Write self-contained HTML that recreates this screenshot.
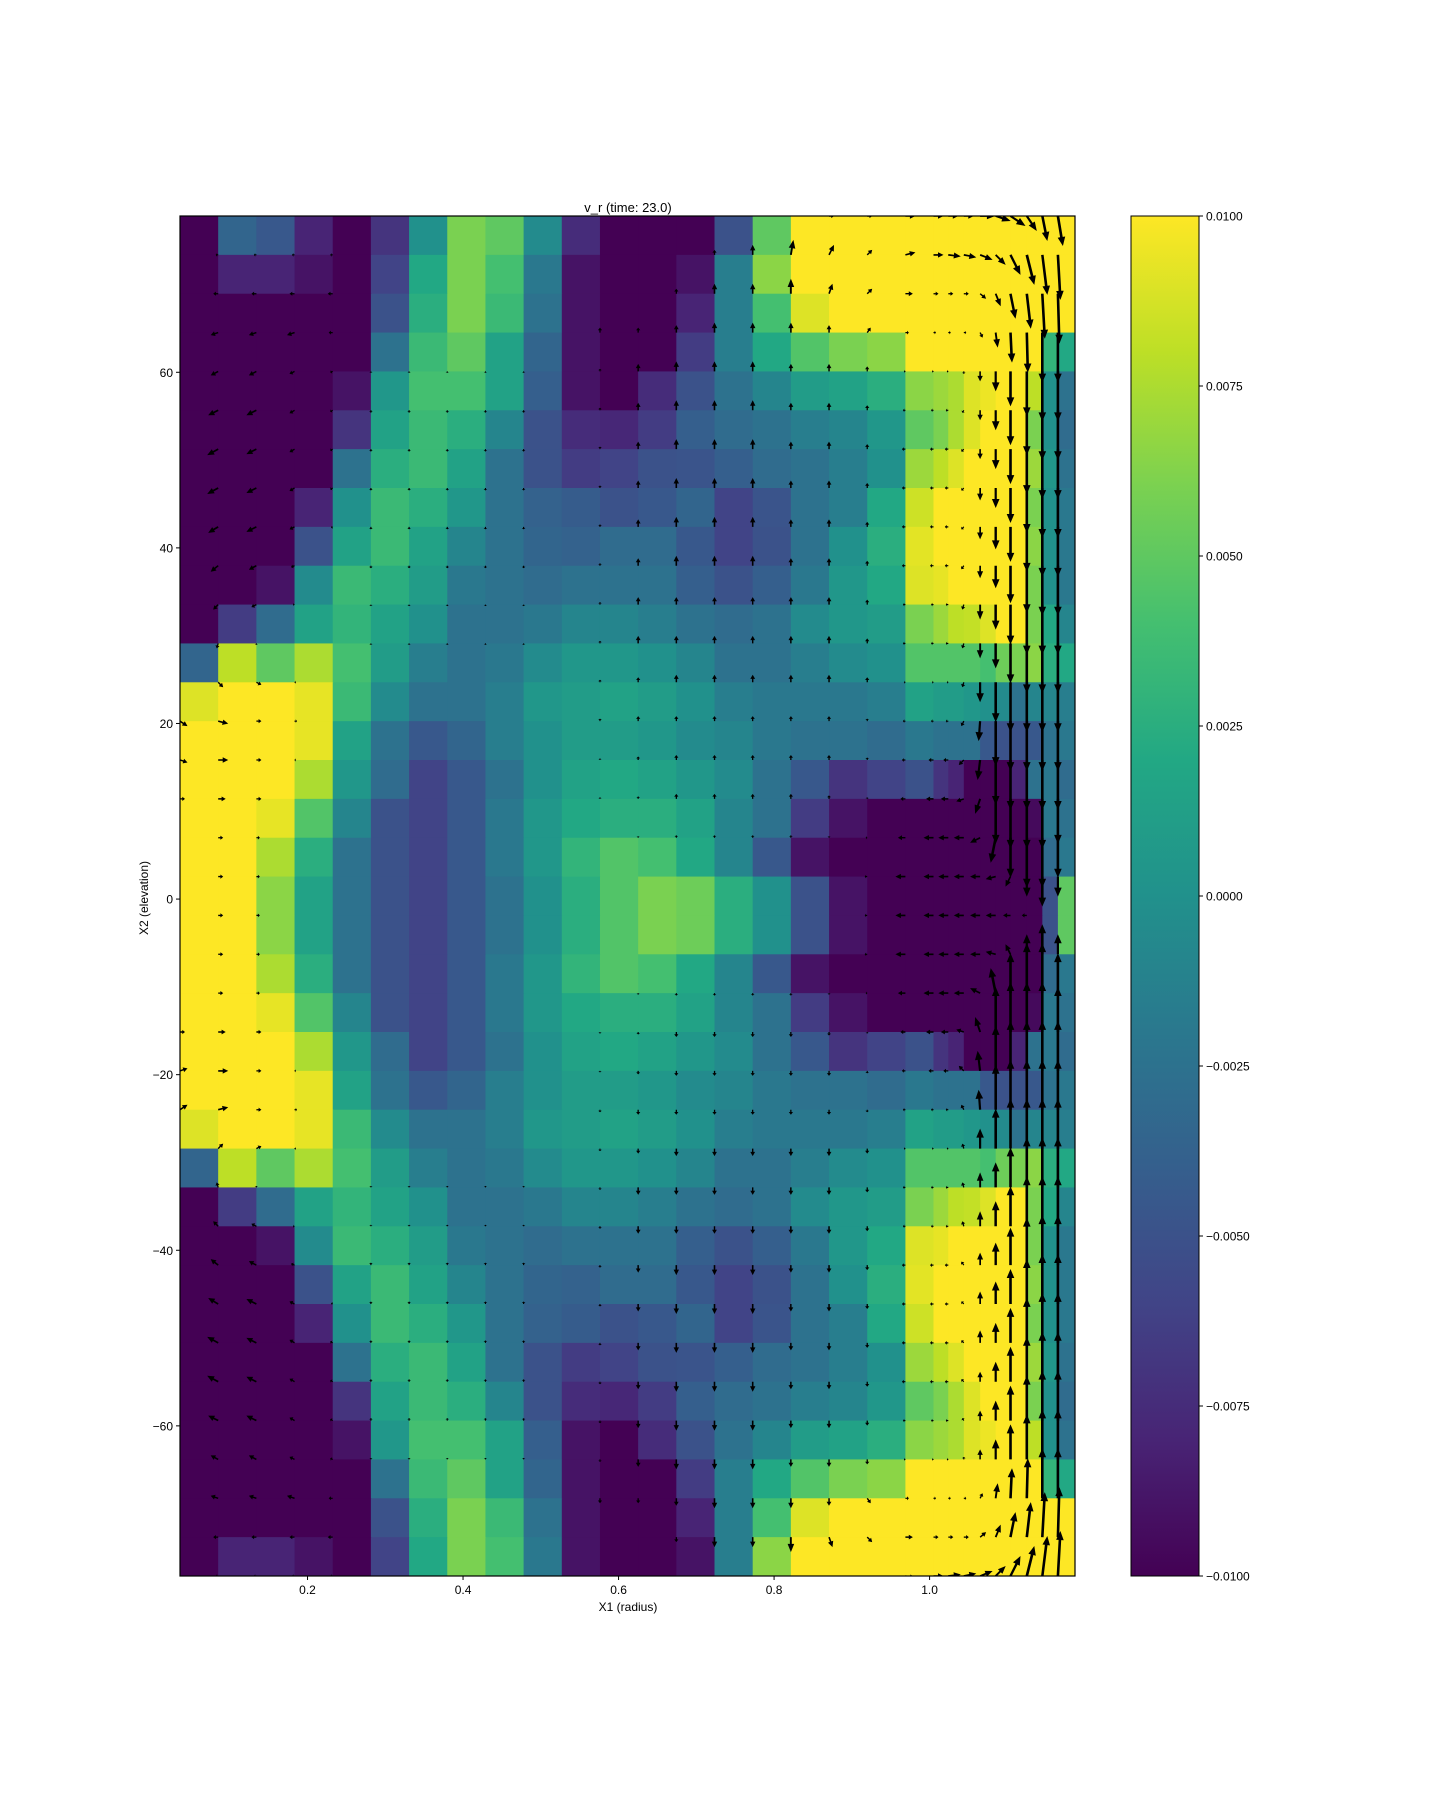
<!DOCTYPE html>
<html><head><meta charset="utf-8"><title>v_r heatmap</title>
<style>
html,body{margin:0;padding:0;background:#fff;}
svg text{font-family:"Liberation Sans","DejaVu Sans",sans-serif;fill:#000;}
</style></head>
<body>
<svg id="fig" width="1440" height="1800" viewBox="0 0 1440 1800" xmlns="http://www.w3.org/2000/svg">
<defs>
<clipPath id="plotclip"><rect x="180" y="216" width="895" height="1360"/></clipPath>
<linearGradient id="vir" x1="0" y1="1" x2="0" y2="0">
<stop offset="0" stop-color="#440154"/><stop offset="0.1" stop-color="#482475"/><stop offset="0.2" stop-color="#414487"/><stop offset="0.3" stop-color="#355f8d"/><stop offset="0.4" stop-color="#2a788e"/><stop offset="0.5" stop-color="#21918c"/><stop offset="0.6" stop-color="#22a884"/><stop offset="0.7" stop-color="#44bf70"/><stop offset="0.8" stop-color="#7ad151"/><stop offset="0.9" stop-color="#bddf26"/><stop offset="1" stop-color="#fde725"/>
</linearGradient>
</defs>
<rect width="1440" height="1800" fill="#fff"/>
<g id="heat" clip-path="url(#plotclip)"></g>
<g id="quiver" clip-path="url(#plotclip)"></g>
<rect x="180" y="216" width="895" height="1360" fill="none" stroke="#000" stroke-width="1.2"/>
<g id="axes"></g>
<text x="628" y="212" text-anchor="middle" font-size="13">v_r (time: 23.0)</text>
<text x="628" y="1611" text-anchor="middle" font-size="12">X1 (radius)</text>
<text x="148" y="898" text-anchor="middle" font-size="12" transform="rotate(-90 148 898)">X2 (elevation)</text>
<rect x="1131" y="216" width="68" height="1360" fill="url(#vir)" stroke="#000" stroke-width="1"/>
<g id="cbaxis"></g>
</svg>
<script>
// ---- data ----
const colEdges = [0.036,0.0851,0.1342,0.1833,0.2324,0.2815,0.3306,0.3797,0.4288,0.4779,0.527,0.5761,0.6252,0.6743,0.7234,0.7725,0.8216,0.8707,0.9198,0.9689,1.005,1.024,1.044,1.065,1.085,1.104,1.125,1.145,1.165,1.187];
const elevTop = 77.8;
const elevBottom = -77.1;
const xTicks = [0.2,0.4,0.6,0.8,1.0];
const xTickLabels = ["0.2","0.4","0.6","0.8","1.0"];
const yTicks = [60,40,20,0,-20,-40,-60];
const yTickLabels = ["60","40","20","0","\u221220","\u221240","\u221260"];
const cbTicks = [0.01,0.0075,0.005,0.0025,0,-0.0025,-0.005,-0.0075,-0.01];
const cbTickLabels = ["0.0100","0.0075","0.0050","0.0025","0.0000","\u22120.0025","\u22120.0050","\u22120.0075","\u22120.0100"];
const vmin = -0.01, vmax = 0.01;
// v_r values in units of 1e-3, rows top (high elevation) to bottom
const vr = [
[-10,-3.5,-4.5,-8,-10,-7,0,6,5,-0.5,-7.5,-10,-10,-10,-5,5,10,10,10,10,10,10,10,10,10,10,10,10,10],
[-10,-8,-8,-9,-10,-6,2,6,4,-2,-9,-10,-10,-9,-1.5,6.5,10,10,10,10,10,10,10,10,10,10,10,10,10],
[-10,-10,-10,-10,-10,-5,2.5,6,3.5,-2.5,-9,-10,-10,-8,-1.5,4,9,10,10,10,10,10,10,10,10,10,10,10,10],
[-10,-10,-10,-10,-10,-2.5,3.5,5,1.5,-3.5,-9,-10,-10,-6.5,-1.5,2,4.5,6,6.5,10,10,10,10,10,10,10,10,3,2],
[-10,-10,-10,-10,-9,0.5,4,4,1.5,-4,-9,-10,-7.5,-5,-2.5,-1,1,1.5,2.5,6.5,7,7.5,9,9.5,10,10,8,0,-2.5],
[-10,-10,-10,-10,-7,1.5,3.5,2.5,-1,-5,-7.5,-7.8,-6.5,-4,-3,-2.5,-1.5,-1,0.5,5,6,7.5,9,10,10,10,6,0,-3],
[-10,-10,-10,-10,-2.5,2.5,3.5,1.5,-2.5,-5,-6.5,-6,-5,-4.8,-4,-3,-2.5,-1.5,0,7,8,9,10,10,10,10,7,0.5,-2.5],
[-10,-10,-10,-8,0,3.5,2.5,0.5,-2.5,-3.8,-4.2,-5,-4.5,-3.5,-6,-4.8,-2.5,-1.5,2,8.5,10,10,10,10,10,10,6,0,-2],
[-10,-10,-10,-5,1.5,3.5,1.5,-1,-2.5,-3.5,-3.8,-3,-3,-4.5,-6,-5,-2.5,0,2.5,9.2,10,10,10,10,10,10,6.5,0,-2],
[-10,-10,-9,-0.5,3.5,2.5,1,-2,-2.5,-3,-2.5,-2.5,-2.5,-4,-5,-4,-2,0.5,2,9,9.3,10,10,10,10,10,6,0,-2],
[-10,-6.5,-3,1.5,3,1.5,0,-2.5,-2.5,-2,-1,-1,-1.5,-2.5,-3,-2.5,-0.5,0.5,1,6,7,8,8.2,9,10,10,6,2,-1],
[-3.5,8,5,7.5,4,1,-1.5,-2.5,-2,-0.5,0.5,0.5,0,-1,-2.5,-2.5,-1.5,-0.5,0,4.5,4.5,4.5,4.5,4,5.5,6,6.5,2.5,2],
[9,10,10,9.3,3.5,-0.5,-2.5,-2.5,-1.5,0.5,1,1.5,1,0,-1.5,-2,-2,-2,-1.5,1.5,1,1,0.5,0,-0.5,-2.5,-1,-1,-1.5],
[10,10,10,9.3,1.5,-2.5,-4.5,-3.5,-1.5,0,1,1,0.5,-0.5,-1,-2,-2.5,-2.5,-3,-2,-2.5,-2.5,-2.5,-4.5,-5,-5,-4.5,-2.5,-2],
[10,10,10,7.5,0.5,-3,-6,-4.5,-2.5,0,1.5,2,1.5,0.5,-0.5,-2.5,-4.5,-7,-6,-5,-7,-8,-10,-10,-10,-8,-2.5,-2,-3],
[10,10,9.3,4.5,-1,-5,-6,-4.5,-2,0.5,2,2.5,2.5,1.5,-1,-2.5,-6.5,-9,-10,-10,-10,-10,-10,-10,-10,-10,-9.5,-2,-2.5],
[10,10,7.5,2.5,-2.5,-5,-6,-4.5,-2,0.5,3,4.5,4,2,-1,-4.5,-9,-10,-10,-10,-10,-10,-10,-10,-10,-10,-10,-3,-2],
[10,10,6.5,1.5,-2.5,-5,-6,-4.5,-2.5,0,2.5,4.5,6,5.5,2.5,0,-5,-9,-10,-10,-10,-10,-10,-10,-10,-10,-10,-5,5],
[10,10,6.5,1.5,-2.5,-5,-6,-4.5,-2.5,0,2.5,4.5,6,5.5,2.5,0,-5,-9,-10,-10,-10,-10,-10,-10,-10,-10,-10,-5,5],
[10,10,7.5,2.5,-2.5,-5,-6,-4.5,-2,0.5,3,4.5,4,2,-1,-4.5,-9,-10,-10,-10,-10,-10,-10,-10,-10,-10,-10,-3,-2],
[10,10,9.3,4.5,-1,-5,-6,-4.5,-2,0.5,2,2.5,2.5,1.5,-1,-2.5,-6.5,-9,-10,-10,-10,-10,-10,-10,-10,-10,-9.5,-2,-2.5],
[10,10,10,7.5,0.5,-3,-6,-4.5,-2.5,0,1.5,2,1.5,0.5,-0.5,-2.5,-4.5,-7,-6,-5,-7,-8,-10,-10,-10,-8,-2.5,-2,-3],
[10,10,10,9.3,1.5,-2.5,-4.5,-3.5,-1.5,0,1,1,0.5,-0.5,-1,-2,-2.5,-2.5,-3,-2,-2.5,-2.5,-2.5,-4.5,-5,-5,-4.5,-2.5,-2],
[9,10,10,9.3,3.5,-0.5,-2.5,-2.5,-1.5,0.5,1,1.5,1,0,-1.5,-2,-2,-2,-1.5,1.5,1,1,0.5,0,-0.5,-2.5,-1,-1,-1.5],
[-3.5,8,5,7.5,4,1,-1.5,-2.5,-2,-0.5,0.5,0.5,0,-1,-2.5,-2.5,-1.5,-0.5,0,4.5,4.5,4.5,4.5,4,5.5,6,6.5,2.5,2],
[-10,-6.5,-3,1.5,3,1.5,0,-2.5,-2.5,-2,-1,-1,-1.5,-2.5,-3,-2.5,-0.5,0.5,1,6,7,8,8.2,9,10,10,6,2,-1],
[-10,-10,-9,-0.5,3.5,2.5,1,-2,-2.5,-3,-2.5,-2.5,-2.5,-4,-5,-4,-2,0.5,2,9,9.3,10,10,10,10,10,6,0,-2],
[-10,-10,-10,-5,1.5,3.5,1.5,-1,-2.5,-3.5,-3.8,-3,-3,-4.5,-6,-5,-2.5,0,2.5,9.2,10,10,10,10,10,10,6.5,0,-2],
[-10,-10,-10,-8,0,3.5,2.5,0.5,-2.5,-3.8,-4.2,-5,-4.5,-3.5,-6,-4.8,-2.5,-1.5,2,8.5,10,10,10,10,10,10,6,0,-2],
[-10,-10,-10,-10,-2.5,2.5,3.5,1.5,-2.5,-5,-6.5,-6,-5,-4.8,-4,-3,-2.5,-1.5,0,7,8,9,10,10,10,10,7,0.5,-2.5],
[-10,-10,-10,-10,-7,1.5,3.5,2.5,-1,-5,-7.5,-7.8,-6.5,-4,-3,-2.5,-1.5,-1,0.5,5,6,7.5,9,10,10,10,6,0,-3],
[-10,-10,-10,-10,-9,0.5,4,4,1.5,-4,-9,-10,-7.5,-5,-2.5,-1,1,1.5,2.5,6.5,7,7.5,9,9.5,10,10,8,0,-2.5],
[-10,-10,-10,-10,-10,-2.5,3.5,5,1.5,-3.5,-9,-10,-10,-6.5,-1.5,2,4.5,6,6.5,10,10,10,10,10,10,10,10,3,2],
[-10,-10,-10,-10,-10,-5,2.5,6,3.5,-2.5,-9,-10,-10,-8,-1.5,4,9,10,10,10,10,10,10,10,10,10,10,10,10],
[-10,-8,-8,-9,-10,-6,2,6,4,-2,-9,-10,-10,-9,-1.5,6.5,10,10,10,10,10,10,10,10,10,10,10,10,10]
];
// quiver velocity components at grid nodes (node row j = top edge of row j, node col c = left edge of column c)
const quiverU = [
"0,0,0,0,0,0,0,0,0,0,0,0,0,0,0,0,0,1,1,2,2,2,2,3,3,3,2,1,1",
"0,-.5,-.5,-.5,-.5,0,0,0,0,0,0,0,0,0,0,0,.5,1,1,2,2,2.5,2.5,2.5,2,2,1.5,1,.5",
"0,-1,-1,-1,-1,0,0,0,0,0,0,0,0,0,0,0,0,.7,1,1.5,1,1,1,1.2,1,1,.8,.5,.3",
"0,-1.5,-1.5,-1.5,-.8,0,0,0,0,0,0,0,0,0,0,0,0,0,.7,.7,.5,.5,.5,.5,.4,.3,.2,0,0",
"0,-1.5,-1.5,-1,-.5,0,0,0,0,0,0,0,0,0,0,0,0,0,0,-.3,-.3,-.3,0,0,0,0,0,0,0",
"0,-2,-2,-1,-.5,0,0,0,0,0,0,0,0,0,0,0,0,0,0,-.5,-.5,-.5,-.3,0,0,0,0,0,0",
"0,-2.2,-2,-1,-.5,0,0,0,0,0,0,0,0,0,0,0,0,0,0,-.7,-.7,-.7,-.5,0,0,0,0,0,0",
"0,-2.2,-2,-1,-.5,0,0,0,0,0,0,0,0,0,0,0,0,0,0,-.7,-.7,-.7,-.5,0,0,0,0,0,0",
"0,-2,-2,-1,-.3,0,0,0,0,0,0,0,0,0,0,0,0,0,0,-.7,-.7,-.7,-.5,0,0,0,0,0,0",
"0,-1.5,-1.5,-.7,0,0,0,0,0,0,0,0,0,0,0,0,0,0,0,-.7,-.7,-.7,-.5,0,0,0,0,0,0",
"0,-1,-1,-.3,0,0,0,0,0,0,0,0,0,0,0,0,0,0,0,-.5,-.5,-.5,-.3,0,0,0,0,0,0",
"0,-.3,0,0,0,0,0,0,0,0,0,0,0,0,0,0,0,0,0,-.5,-.5,-.5,-.3,0,0,0,0,0,0",
"0,1,1,.3,0,0,0,0,0,0,0,0,0,0,0,0,0,0,0,-.3,-.3,-.3,-.3,0,0,0,0,0,0",
"1.5,2,1,.5,0,0,0,0,0,0,0,0,0,0,0,0,0,0,0,-.5,-.5,-.5,-.5,-.3,0,0,0,0,0",
"1.5,2,1,.3,0,0,0,0,0,0,0,0,0,0,0,0,0,0,0,-.7,-1,-1,-1,-.5,0,0,0,0,0",
"1,1.5,1,0,0,0,0,0,0,0,0,0,0,0,0,0,0,0,0,-1,-1.5,-1.5,-1.5,-1,0,0,0,0,0",
"0,1,.7,0,0,0,0,0,0,0,0,0,0,0,0,0,0,0,-.3,-1.5,-2,-2,-2,-2,-1,0,0,0,0",
"0,1,.7,0,0,0,0,0,0,0,0,0,0,0,0,0,0,0,-.5,-2,-2,-2,-2,-2,-2,-1,0,0,0",
"0,1,.7,0,0,0,0,0,0,0,0,0,0,0,0,0,0,0,-.5,-2,-2,-2,-2,-2,-2,-1.5,-1,0,0",
"0,1,.7,0,0,0,0,0,0,0,0,0,0,0,0,0,0,0,-.5,-2,-2,-2,-2,-2,-2,-1,0,0,0",
"0,1,.7,0,0,0,0,0,0,0,0,0,0,0,0,0,0,0,-.3,-1.5,-2,-2,-2,-2,-1,0,0,0,0",
"1,1.5,1,0,0,0,0,0,0,0,0,0,0,0,0,0,0,0,0,-1,-1.5,-1.5,-1.5,-1,0,0,0,0,0",
"1.5,2,1,.3,0,0,0,0,0,0,0,0,0,0,0,0,0,0,0,-.7,-1,-1,-1,-.5,0,0,0,0,0",
"1.5,2,1,.5,0,0,0,0,0,0,0,0,0,0,0,0,0,0,0,-.5,-.5,-.5,-.5,-.3,0,0,0,0,0",
"0,1,1,.3,0,0,0,0,0,0,0,0,0,0,0,0,0,0,0,-.3,-.3,-.3,-.3,0,0,0,0,0,0",
"0,-.3,0,0,0,0,0,0,0,0,0,0,0,0,0,0,0,0,0,-.5,-.5,-.5,-.3,0,0,0,0,0,0",
"0,-1,-1,-.3,0,0,0,0,0,0,0,0,0,0,0,0,0,0,0,-.5,-.5,-.5,-.3,0,0,0,0,0,0",
"0,-1.5,-1.5,-.7,0,0,0,0,0,0,0,0,0,0,0,0,0,0,0,-.7,-.7,-.7,-.5,0,0,0,0,0,0",
"0,-2,-2,-1,-.3,0,0,0,0,0,0,0,0,0,0,0,0,0,0,-.7,-.7,-.7,-.5,0,0,0,0,0,0",
"0,-2.2,-2,-1,-.5,0,0,0,0,0,0,0,0,0,0,0,0,0,0,-.7,-.7,-.7,-.5,0,0,0,0,0,0",
"0,-2.2,-2,-1,-.5,0,0,0,0,0,0,0,0,0,0,0,0,0,0,-.7,-.7,-.7,-.5,0,0,0,0,0,0",
"0,-2,-2,-1,-.5,0,0,0,0,0,0,0,0,0,0,0,0,0,0,-.5,-.5,-.5,-.3,0,0,0,0,0,0",
"0,-1.5,-1.5,-1,-.5,0,0,0,0,0,0,0,0,0,0,0,0,0,0,-.3,-.3,-.3,0,0,0,0,0,0,0",
"0,-1.5,-1.5,-1.5,-.8,0,0,0,0,0,0,0,0,0,0,0,0,0,.7,.7,.5,.5,.5,.5,.4,.3,.2,0,0",
"0,-1,-1,-1,-1,0,0,0,0,0,0,0,0,0,0,0,0,.7,1,1.5,1,1,1,1.2,1,1,.8,.5,.3",
"0,-.5,-.5,-.5,-.5,0,0,0,0,0,0,0,0,0,0,0,.5,1,1,2,2,2.5,2.5,2.5,2,2,1.5,1,.5"
];
const quiverV = [
"0,0,0,0,0,0,0,0,0,0,0,0,0,0,0,0,0,0,0,0,0,0,0,0,-1,-2,-3,-5,-6",
"0,0,0,0,0,0,0,0,0,0,0,0,0,0,1,2,3,2,1,.5,0,-.3,-.5,-1,-2,-4,-6,-8,-9",
"0,0,0,0,0,0,0,0,0,0,0,0,0,1,2,2,3,2,1,0,0,0,0,-1,-2.5,-5,-7,-9,-10",
"0,-.5,-.5,-.5,0,0,0,0,0,0,0,1,1,1.5,2,2,2,1.5,1,0,0,0,0,-1,-3,-6,-8,-10,-10",
"0,-.8,-.8,-.5,-.2,-.3,-.3,-.3,-.3,-.3,0,.5,1.5,2,2,2,1.5,1.5,1,0,0,0,-.5,-2,-4,-7,-9,-10,-10",
"0,-1,-1,-.6,-.3,-.5,-.5,-.5,-.5,-.5,0,.5,1.5,2,2,2,1.5,1.5,1,0,0,0,-.5,-2,-4,-7,-9,-10,-10",
"0,-1.2,-1,-.6,-.3,-.5,-.5,-.5,-.5,-.5,0,.5,1.5,2,2,2,1.5,1.5,1,0,0,0,-.5,-2,-4,-7,-9,-10,-10",
"0,-1.2,-1,-.6,-.3,-.5,-.5,-.5,-.5,-.5,0,.5,1.5,2,2,2,1.5,1.5,1,0,0,0,-.5,-2.5,-4,-7,-9,-10,-10",
"0,-1.2,-1,-.5,-.2,-.5,-.5,-.5,-.5,-.5,0,.5,1.5,2,2,2,1.5,1.5,1,0,0,0,-.5,-2.5,-4.5,-7,-9,-10,-10",
"0,-1.2,-.8,-.3,0,-.5,-.5,-.5,-.5,-.5,0,.5,1.5,2,2,2,1.5,1.5,1,0,0,0,-.7,-2.5,-4.5,-7.5,-9.5,-10,-10",
"0,-1,-.5,0,0,-.3,-.3,-.3,-.3,-.3,0,.5,1.5,1.5,1.5,1.5,1.5,1.5,1,0,0,0,-1,-3,-5,-8,-10,-10,-10",
"0,-1,-.3,0,0,-.3,-.3,-.3,-.3,-.3,0,.5,1.5,1.5,1.5,1.5,1.5,1.5,1,0,0,0,-1,-3,-5,-8,-10,-10,-10",
"0,-1,-.5,0,0,0,0,0,0,0,0,.5,1,1.5,1.5,1.5,1.5,1.5,1,0,0,0,-1,-4,-8,-10,-10,-10,-10",
"-1,-.5,0,0,0,0,0,0,0,0,0,.5,1,1,1,1,1,1,.5,0,0,0,-1,-4,-9,-10,-10,-10,-10",
"-.5,0,0,0,0,0,0,0,0,0,0,.3,.7,1,1,1,1,1,.5,0,0,0,-1,-4,-9,-10,-10,-10,-10",
"0,0,0,0,0,0,0,0,0,0,0,.3,.5,1,1,1,1,.7,.3,0,0,0,-.5,-3,-9,-10,-10,-10,-9",
"0,0,0,0,0,0,0,0,0,0,0,.2,.3,.5,.5,.5,.5,.3,0,0,0,0,0,-1,-5,-8,-10,-10,-8",
"0,0,0,0,0,0,0,0,0,0,0,0,0,0,0,0,0,0,0,0,0,0,0,0,-.5,-2,-4,-6,-4",
"0,0,0,0,0,0,0,0,0,0,0,0,0,0,0,0,0,0,0,0,0,0,0,0,0,0,0,0,0",
"0,0,0,0,0,0,0,0,0,0,0,0,0,0,0,0,0,0,0,0,0,0,0,0,.5,2,4,6,4",
"0,0,0,0,0,0,0,0,0,0,0,-.2,-.3,-.5,-.5,-.5,-.5,-.3,0,0,0,0,0,1,5,8,10,10,8",
"0,0,0,0,0,0,0,0,0,0,0,-.3,-.5,-1,-1,-1,-1,-.7,-.3,0,0,0,.5,3,9,10,10,10,9",
".5,0,0,0,0,0,0,0,0,0,0,-.3,-.7,-1,-1,-1,-1,-1,-.5,0,0,0,1,4,9,10,10,10,10",
"1,.5,0,0,0,0,0,0,0,0,0,-.5,-1,-1,-1,-1,-1,-1,-.5,0,0,0,1,4,9,10,10,10,10",
"0,1,.5,0,0,0,0,0,0,0,0,-.5,-1,-1.5,-1.5,-1.5,-1.5,-1.5,-1,0,0,0,1,4,8,10,10,10,10",
"0,1,.3,0,0,.3,.3,.3,.3,.3,0,-.5,-1.5,-1.5,-1.5,-1.5,-1.5,-1.5,-1,0,0,0,1,3,5,8,10,10,10",
"0,1,.5,0,0,.3,.3,.3,.3,.3,0,-.5,-1.5,-1.5,-1.5,-1.5,-1.5,-1.5,-1,0,0,0,1,3,5,8,10,10,10",
"0,1.2,.8,.3,0,.5,.5,.5,.5,.5,0,-.5,-1.5,-2,-2,-2,-1.5,-1.5,-1,0,0,0,.7,2.5,4.5,7.5,9.5,10,10",
"0,1.2,1,.5,.2,.5,.5,.5,.5,.5,0,-.5,-1.5,-2,-2,-2,-1.5,-1.5,-1,0,0,0,.5,2.5,4.5,7,9,10,10",
"0,1.2,1,.6,.3,.5,.5,.5,.5,.5,0,-.5,-1.5,-2,-2,-2,-1.5,-1.5,-1,0,0,0,.5,2.5,4,7,9,10,10",
"0,1.2,1,.6,.3,.5,.5,.5,.5,.5,0,-.5,-1.5,-2,-2,-2,-1.5,-1.5,-1,0,0,0,.5,2,4,7,9,10,10",
"0,1,1,.6,.3,.5,.5,.5,.5,.5,0,-.5,-1.5,-2,-2,-2,-1.5,-1.5,-1,0,0,0,.5,2,4,7,9,10,10",
"0,.8,.8,.5,.2,.3,.3,.3,.3,.3,0,-.5,-1.5,-2,-2,-2,-1.5,-1.5,-1,0,0,0,.5,2,4,7,9,10,10",
"0,.5,.5,.5,0,0,0,0,0,0,0,-1,-1,-1.5,-2,-2,-2,-1.5,-1,0,0,0,0,1,3,6,8,10,10",
"0,0,0,0,0,0,0,0,0,0,0,0,0,-1,-2,-2,-3,-2,-1,0,0,0,0,1,2.5,5,7,9,10",
"0,0,0,0,0,0,0,0,0,0,0,0,0,0,-1,-2,-3,-2,-1,-.5,0,.3,.5,1,2,4,6,8,9"
];

// ---- scales ----
const X0 = 180, X1 = 1075, Y0 = 216, Y1 = 1576;
const rMin = colEdges[0], rMax = colEdges[colEdges.length - 1];
function xScale(r) { return X0 + (r - rMin) / (rMax - rMin) * (X1 - X0); }
function yScale(e) { return Y0 + (elevTop - e) / (elevTop - elevBottom) * (Y1 - Y0); }
const nRows = vr.length;
const rowH = (elevTop - elevBottom) / nRows;
function rowEdge(j) { return elevTop - j * rowH; }

const vir = ["#440154","#482475","#414487","#355f8d","#2a788e","#21918c","#22a884","#44bf70","#7ad151","#bddf26","#fde725"];
function hex(c){return [parseInt(c.slice(1,3),16),parseInt(c.slice(3,5),16),parseInt(c.slice(5,7),16)];}
function colorFor(v) {
  let t = (v - vmin) / (vmax - vmin);
  t = Math.max(0, Math.min(1, t));
  const p = t * 10, i = Math.min(9, Math.floor(p)), f = p - i;
  const a = hex(vir[i]), b = hex(vir[i+1]);
  return "rgb(" + [0,1,2].map(k => Math.round(a[k] + (b[k]-a[k]) * f)).join(",") + ")";
}
const NS = "http://www.w3.org/2000/svg";
function mk(tag, attrs, parent) {
  const e = document.createElementNS(NS, tag);
  for (const k in attrs) e.setAttribute(k, attrs[k]);
  parent.appendChild(e);
  return e;
}

// ---- heatmap ----
const heat = document.getElementById("heat");
for (let j = 0; j < nRows; j++) {
  const ya = yScale(rowEdge(j)), yb = yScale(rowEdge(j + 1));
  for (let c = 0; c < vr[j].length && c < colEdges.length - 1; c++) {
    const xa = xScale(colEdges[c]), xb = xScale(colEdges[c + 1]);
    const cell = mk("rect", {x: xa.toFixed(2), y: ya.toFixed(2), width: (xb - xa + 0.6).toFixed(2), height: (yb - ya + 0.6).toFixed(2), fill: colorFor(vr[j][c] / 1000)}, heat);
    
    
  }
}

// ---- quiver ----
const quiver = document.getElementById("quiver");
const arrowScale = 5;
for (let j = 0; j < quiverU.length; j++) {
  const us = quiverU[j].split(",").map(Number);
  const vs = quiverV[j].split(",").map(Number);
  const yn = yScale(rowEdge(j));
  for (let c = 0; c < us.length && c < colEdges.length - 1; c++) {
    const u = us[c] || 0, v = vs[c] || 0;
    const mag = Math.hypot(u, v);
    const L = mag * arrowScale;
    if (L < 1.5) continue;
    const xn = xScale(colEdges[c]);
    const ux = u / mag, uy = -v / mag;
    const nx = -uy, ny = ux;
    const hl = Math.min(L * 0.55, 9), hw = Math.min(3.8, 1.5 + L * 0.12), sw = Math.min(1.3, 0.5 + L * 0.03);
    const tx = xn + ux * L, ty = yn + uy * L;
    const bx = tx - ux * hl, by = ty - uy * hl;
    const pts = [
      [xn + nx * sw, yn + ny * sw], [bx + nx * sw, by + ny * sw], [bx + nx * hw, by + ny * hw],
      [tx, ty], [bx - nx * hw, by - ny * hw], [bx - nx * sw, by - ny * sw], [xn - nx * sw, yn - ny * sw]
    ].map(p => p[0].toFixed(1) + "," + p[1].toFixed(1)).join(" ");
    const ar = mk("polygon", {points: pts, fill: "#000"}, quiver);
    
    
  }
}

// ---- axes ----
const axes = document.getElementById("axes");
xTicks.forEach((t, i) => {
  const x = xScale(t);
  const tk = mk("line", {x1: x, y1: Y1, x2: x, y2: Y1 + 4, stroke: "#000", "stroke-width": 1}, axes);
  
  
  const lb = mk("text", {x: x, y: Y1 + 18, "text-anchor": "middle", "font-size": 12}, axes);
  lb.textContent = xTickLabels[i];
  
  
});
yTicks.forEach((t, i) => {
  const y = yScale(t);
  const tk = mk("line", {x1: X0 - 4, y1: y, x2: X0, y2: y, stroke: "#000", "stroke-width": 1}, axes);
  
  
  const lb = mk("text", {x: X0 - 7, y: y + 4.5, "text-anchor": "end", "font-size": 12}, axes);
  lb.textContent = yTickLabels[i];
  
  
});
const cb = document.getElementById("cbaxis");
function cbScale(v) { return Y0 + (vmax - v) / (vmax - vmin) * (Y1 - Y0); }
cbTicks.forEach((t, i) => {
  const y = cbScale(t);
  const tk = mk("line", {x1: 1199, y1: y, x2: 1203, y2: y, stroke: "#000", "stroke-width": 1}, cb);
  
  
  const lb = mk("text", {x: 1206, y: y + 4.5, "font-size": 12}, cb);
  lb.textContent = cbTickLabels[i];
  
  
});
</script>
</body></html>
